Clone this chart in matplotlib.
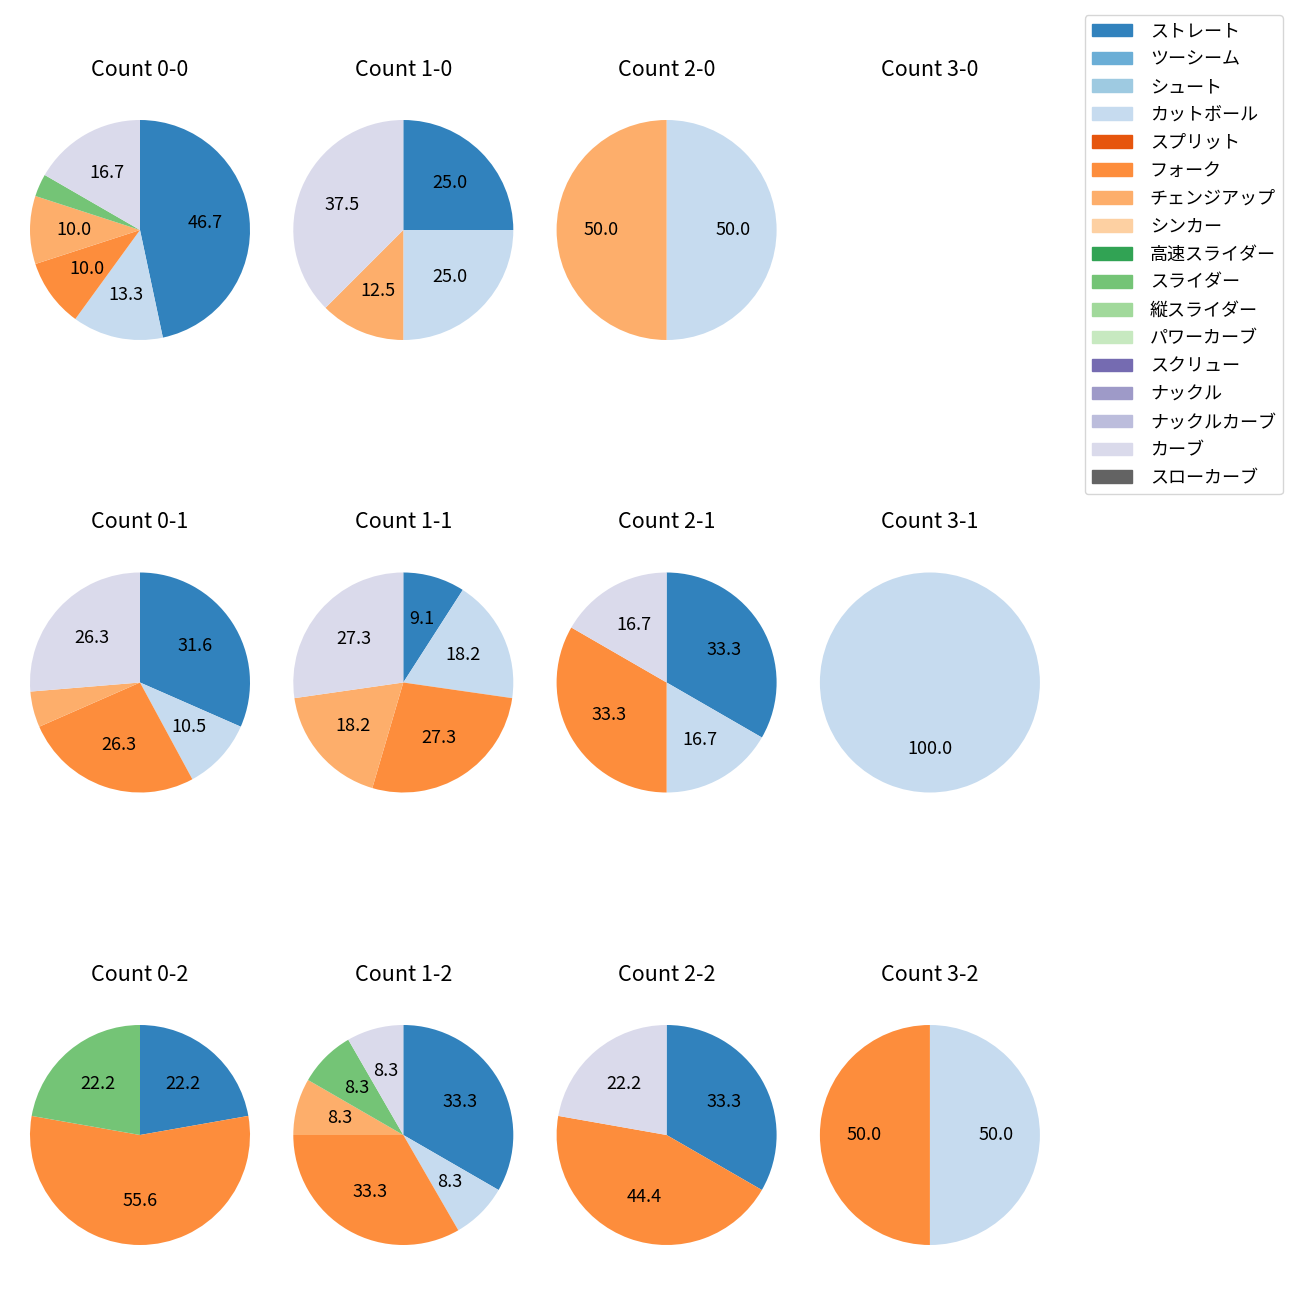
import matplotlib
matplotlib.use("Agg")
import matplotlib.pyplot as plt
from matplotlib.patches import Patch

plt.rcParams["font.family"] = ["Noto Sans CJK JP", "DejaVu Sans"]
plt.rcParams["font.size"] = 13

pitches = ["ストレート", "ツーシーム", "シュート", "カットボール", "スプリット", "フォーク",
           "チェンジアップ", "シンカー", "高速スライダー", "スライダー", "縦スライダー",
           "パワーカーブ", "スクリュー", "ナックル", "ナックルカーブ", "カーブ", "スローカーブ"]
colors = ["#3182bd", "#6baed6", "#9ecae1", "#c6dbef", "#e6550d", "#fd8d3c",
          "#fdae6b", "#fdd0a2", "#31a354", "#74c476", "#a1d99b", "#c7e9c0",
          "#756bb1", "#9e9ac8", "#bcbddc", "#dadaeb", "#636363"]

# pitch counts per ball-strike count (balls-strikes), by pitch name
counts = {
    "0-0": {"ストレート": 14, "カットボール": 4, "フォーク": 3, "チェンジアップ": 3, "スライダー": 1, "カーブ": 5},
    "1-0": {"ストレート": 2, "カットボール": 2, "チェンジアップ": 1, "カーブ": 3},
    "2-0": {"カットボール": 1, "チェンジアップ": 1},
    "3-0": {},
    "0-1": {"ストレート": 6, "カットボール": 2, "フォーク": 5, "チェンジアップ": 1, "カーブ": 5},
    "1-1": {"ストレート": 1, "カットボール": 2, "フォーク": 3, "チェンジアップ": 2, "カーブ": 3},
    "2-1": {"ストレート": 2, "カットボール": 1, "フォーク": 2, "カーブ": 1},
    "3-1": {"カットボール": 1},
    "0-2": {"ストレート": 2, "フォーク": 5, "スライダー": 2},
    "1-2": {"ストレート": 4, "カットボール": 1, "フォーク": 4, "チェンジアップ": 1, "スライダー": 1, "カーブ": 1},
    "2-2": {"ストレート": 3, "フォーク": 4, "カーブ": 2},
    "3-2": {"カットボール": 1, "フォーク": 1},
}
strikes = [0, 1, 2]
balls = [0, 1, 2, 3]

W = H = 1300
fig = plt.figure(figsize=(13, 13), dpi=100)
size = 275
for r, s in enumerate(strikes):
    for c, b in enumerate(balls):
        key = f"{b}-{s}"
        cx = 140 + c * 263.3
        cy = 230 + r * 452.5
        ax = fig.add_axes([(cx - size / 2) / W, 1 - (cy + size / 2) / H, size / W, size / H])
        ax.set_title(f"Count {key}", pad=12, fontsize=15.5)
        data = counts[key]
        if not data:
            ax.axis("off")
            continue
        names = [p for p in pitches if p in data]
        vals = [data[p] for p in names]
        cols = [colors[pitches.index(p)] for p in names]
        ax.pie(vals, colors=cols, startangle=90, counterclock=False,
               autopct=lambda p: f"{p:.1f}" if p >= 7 else "",
               textprops={"fontsize": 13})
        ax.set_aspect("equal")

handles = [Patch(color=c, label=p) for p, c in zip(pitches, colors)]
fig.legend(handles=handles, loc="upper right", bbox_to_anchor=(1283 / W, 1 - 15 / H),
           borderaxespad=0, fontsize=13, labelspacing=0.55,
           handlelength=2.2, handletextpad=1.0)

fig.savefig("out.png", dpi=100)
